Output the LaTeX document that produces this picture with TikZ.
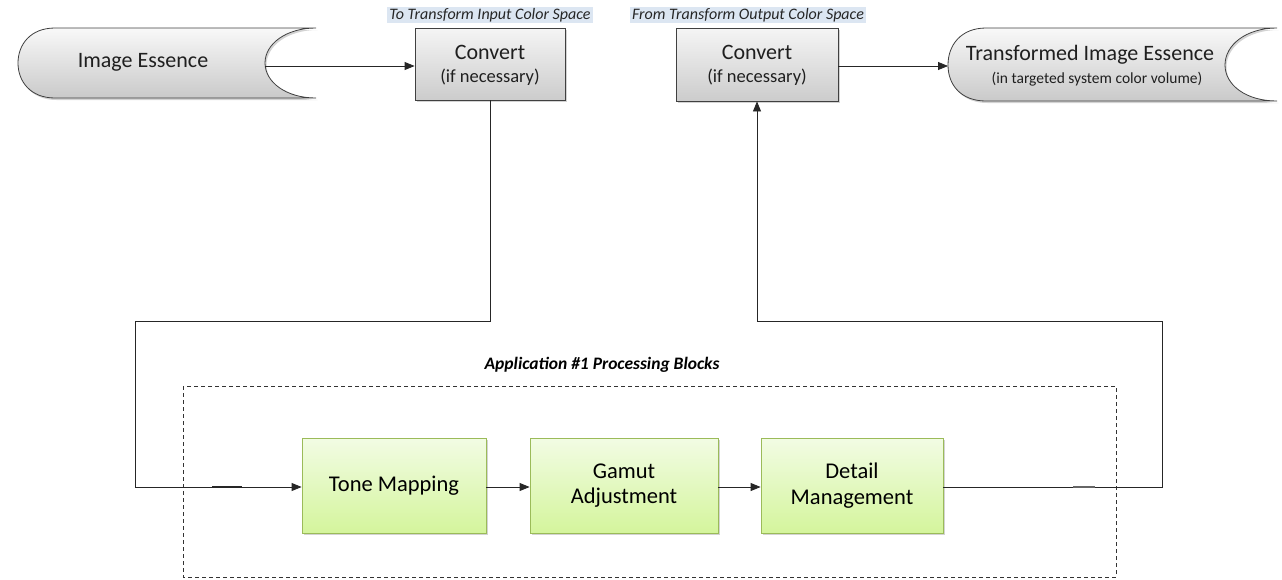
\documentclass[tikz,border=0pt]{standalone}
\usepackage{fontspec}
\setmainfont{Carlito}
\usetikzlibrary{arrows.meta,shadows,positioning}
\definecolor{lblbg}{HTML}{DCE6F2}
\definecolor{greenedge}{HTML}{9BBB59}
\definecolor{greentop}{HTML}{F2FCE4}
\definecolor{greenbot}{HTML}{D4F59C}
\definecolor{grayedge}{HTML}{404040}
\tikzset{
  conv/.style={draw=grayedge, line width=0.8pt, top color=gray!8, bottom color=gray!40,
    minimum width=150pt, minimum height=72pt, align=center, inner sep=0pt,
    drop shadow={shadow xshift=1.5pt, shadow yshift=-2pt, opacity=0.35}},
  gbox/.style={draw=greenedge, line width=0.8pt, top color=greentop, bottom color=greenbot,
    minimum width=184pt, minimum height=95pt, align=center, inner sep=0pt, font=\fontsize{22.5}{25.5}\selectfont,
    drop shadow={shadow xshift=1.5pt, shadow yshift=-2pt, opacity=0.35}},
  lbl/.style={fill=lblbg, font=\itshape\fontsize{16}{18}\selectfont, inner xsep=2pt, inner ysep=1.5pt, text=black!85},
  conn/.style={line width=0.8pt, draw=black!85},
  arr/.style={conn, -{Triangle[length=10pt,width=8pt]}},
  store/.style={draw=grayedge, line width=0.8pt, top color=gray!5, bottom color=gray!42,
    drop shadow={shadow xshift=1.5pt, shadow yshift=-2pt, opacity=0.35}},
  bigtxt/.style={font=\fontsize{22}{25}\selectfont, text=black!88},
  smtxt/.style={font=\fontsize{18.5}{21}\selectfont, text=black!88},
}
\begin{document}
\begin{tikzpicture}[x=1pt,y=-1pt]
\useasboundingbox (0,0) rectangle (1282,579);
% Image Essence stored data
\path[store] (316,28) -- (55,28) .. controls (30,28) and (18,45) .. (18,63)
  .. controls (18,81) and (30,98) .. (55,98) -- (316,98)
  .. controls (286,98) and (265,82) .. (265,63) .. controls (265,44) and (286,28) .. (316,28);
\node[bigtxt] (ie) at (143,62) {Image Essence};
\coordinate (ieout) at (265,66);
% Transformed Image Essence
\path[store] (1277,28) -- (986,28) .. controls (961,28) and (948,45) .. (948,65)
  .. controls (948,85) and (961,101) .. (986,101) -- (1277,101)
  .. controls (1246,101) and (1225,85) .. (1225,65) .. controls (1225,45) and (1246,28) .. (1277,28);
\node[bigtxt] (tie) at (1090,55) {Transformed Image Essence};
\node[font=\fontsize{15.5}{18}\selectfont, text=black!88] (tiesub) at (1097,79) {(in targeted system color volume)};
\coordinate (tiein) at (948,66);
% Convert boxes
\node[conv] (c1) at (490,64) {};
\node[bigtxt] (c1a) at (490,52) {Convert};
\node[smtxt] (c1b) at (490,77) {(if necessary)};
\node[conv, minimum width=162pt, minimum height=73pt] (c2) at (757,64.5) {};
\node[bigtxt] (c2a) at (757,52) {Convert};
\node[smtxt] (c2b) at (757,77) {(if necessary)};
% labels
\node[lbl] (l1) at (490,15) {To Transform Input Color Space};
\node[lbl] (l2) at (748,15) {From Transform Output Color Space};
% dashed area
\draw[line width=0.8pt, draw=black!80, dash pattern=on 4pt off 3pt] (183,386) rectangle (1116,577);
\node[font=\bfseries\itshape\fontsize{17.5}{20}\selectfont] (apptitle) at (602,365) {Application \#1 Processing Blocks};
% green boxes
\node[gbox] (tm) at (394,485.5) {Tone Mapping};
\node[gbox, minimum width=188pt] (ga) at (624,485.5) {Gamut\\Adjustment};
\node[gbox, minimum width=182pt] (dm) at (852,485.5) {Detail\\Management};
% connectors
\draw[arr] (ieout) -- (c1.west |- ieout);
\draw[arr] (c2.east |- tiein) -- (tiein);
\coordinate (p1) at (135,321);
\coordinate (p2) at (135,487);
\draw[arr] (c1.south) -- (c1.south |- p1) -- (p1) -- (p2) -- (tm.west |- p2);
\draw[arr] (tm.east |- p2) -- (ga.west |- p2);
\draw[arr] (ga.east |- p2) -- (dm.west |- p2);
\coordinate (q1) at (1162,487);
\coordinate (q2) at (1162,321);
\draw[arr] (dm.east |- q1) -- (q1) -- (q2) -- (c2.south |- q2) -- (c2.south);
% small overlap artifacts
\coordinate (s1) at (212,487);
\coordinate (s2) at (242,487);
\coordinate (s3) at (1073,487);
\coordinate (s4) at (1095,487);
\draw[line width=1.6pt, draw=black!85] (s1) -- (s2);
\draw[line width=1.6pt, draw=black!60] (s3) -- (s4);
\end{tikzpicture}
\end{document}
